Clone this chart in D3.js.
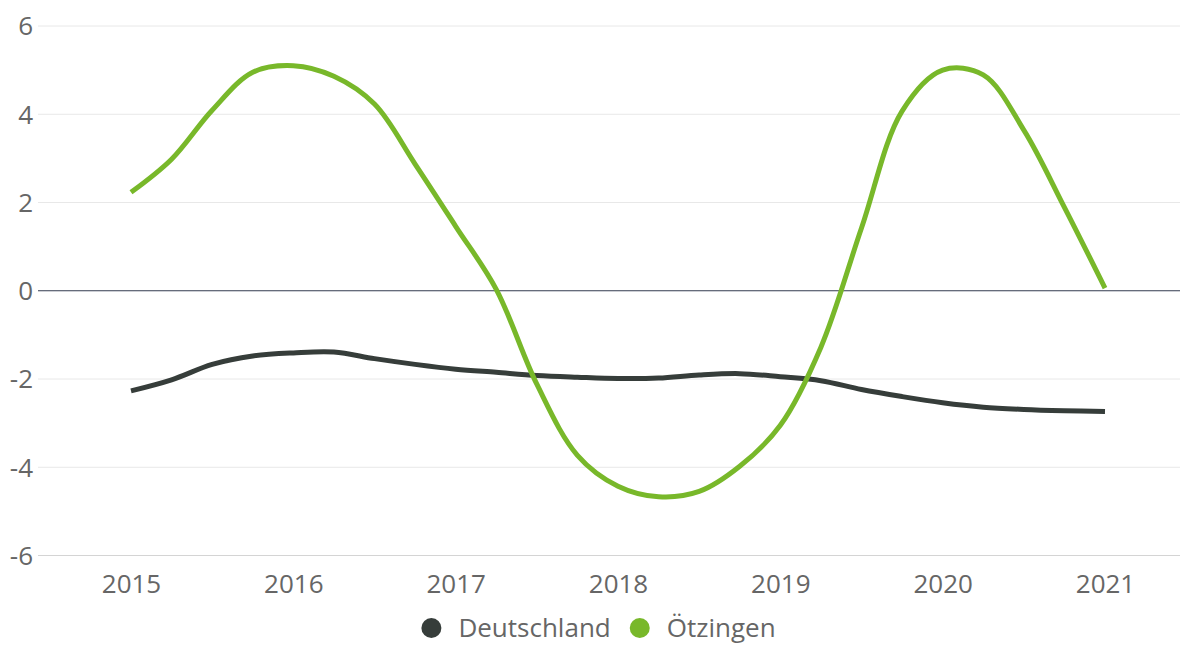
<!DOCTYPE html>
<html>
<head>
<meta charset="utf-8">
<script src="https://cdn.jsdelivr.net/npm/d3@7"></script>
<style>
  html, body { margin: 0; padding: 0; background: #fff; }
  svg { display: block; }
  svg text { font-family: "Open Sans", sans-serif; }
</style>
</head>
<body>
<svg id="chart" width="1180" height="646"></svg>
<script>
// Quarterly sample positions (years)
const periods = [2015, 2015.25, 2015.5, 2015.75, 2016, 2016.25, 2016.5, 2016.75,
                 2017, 2017.25, 2017.5, 2017.75, 2018, 2018.25, 2018.5, 2018.75,
                 2019, 2019.25, 2019.5, 2019.75, 2020, 2020.25, 2020.5, 2020.75, 2021];
const deutschland = [-2.28, -2.03, -1.68, -1.49, -1.42, -1.40, -1.55, -1.68,
                     -1.79, -1.86, -1.93, -1.97, -2.00, -1.99, -1.92, -1.89,
                     -1.96, -2.05, -2.25, -2.41, -2.55, -2.65, -2.70, -2.73, -2.75];
const oetzingen = [2.22, 2.97, 4.08, 4.94, 5.09, 4.85, 4.22, 2.86,
                   1.45, 0.02, -2.13, -3.74, -4.44, -4.68, -4.56, -3.99,
                   -3.06, -1.29, 1.41, 4.06, 4.99, 4.88, 3.63, 1.88, 0.05];
const xTicks = [2015, 2016, 2017, 2018, 2019, 2020, 2021];
const yTicks = [-6, -4, -2, 0, 2, 4, 6];
const seriesNames = ["Deutschland", "Ötzingen"];
const seriesColors = ["#363d3a", "#78b82a"];

const FONT = "'Open Sans', sans-serif";
const svg = d3.select("#chart");
const plot = { left: 38, right: 1180, top: 25.5, bottom: 555 };

const x = d3.scaleLinear().domain([2015, 2021]).range([131, 1105]);
const y = d3.scaleLinear().domain([-6, 6]).range([plot.bottom, plot.top]);

// Grid lines + y labels
const yAxis = d3.axisLeft(y).tickValues(yTicks).tickSize(-(plot.right - plot.left)).tickPadding(6)
  .tickFormat(d => String(d));
const gy = svg.append("g").attr("transform", `translate(${plot.left},0)`).call(yAxis)
  .attr("font-family", FONT).attr("font-size", 26);
gy.select(".domain").remove();
gy.selectAll(".tick line")
  .attr("stroke", d => d === 0 ? "#333b4f" : (d === -6 ? "#d4d4d4" : "#e8e8e8"))
  .attr("stroke-width", 1);
gy.selectAll(".tick text")
  .attr("fill", "#666666")
  .attr("x", -5)
  .attr("dy", "0.36em");

// X axis labels
const xAxis = d3.axisBottom(x).tickValues(xTicks).tickSize(0).tickPadding(0).tickFormat(d => String(d));
const gx = svg.append("g").attr("transform", `translate(0,${plot.bottom})`).call(xAxis)
  .attr("font-family", FONT).attr("font-size", 26);
gx.select(".domain").remove();
gx.selectAll(".tick text")
  .attr("fill", "#666666")
  .attr("y", 38)
  .attr("dy", 0);

// Lines
const line = d3.line()
  .x(d => x(d[0]))
  .y(d => y(d[1]))
  .curve(d3.curveCatmullRom.alpha(0.5));

[deutschland, oetzingen].forEach((vals, i) => {
  const pts = periods.map((p, j) => [p, vals[j]]);
  svg.append("path")
    .datum(pts)
    .attr("d", line)
    .attr("fill", "none")
    .attr("stroke", seriesColors[i])
    .attr("stroke-width", 5)
    .attr("stroke-linejoin", "round")
    .attr("stroke-linecap", "butt");
});

// Legend
const legend = svg.append("g").attr("font-family", FONT).attr("font-size", 26);
let cursor = 0;
seriesNames.forEach((name, i) => {
  const g = legend.append("g").attr("transform", `translate(${cursor},0)`);
  g.append("circle").attr("cx", 10).attr("cy", 0).attr("r", 10).attr("fill", seriesColors[i]);
  const t = g.append("text").attr("x", 37).attr("y", 0).attr("dy", "0.35em")
    .attr("fill", "#666666").text(name);
  cursor += 37 + t.node().getComputedTextLength() + 19;
});
const legendW = cursor - 19;
legend.attr("transform", `translate(${(420 + 777) / 2 - legendW / 2},628)`);
</script>
</body>
</html>
